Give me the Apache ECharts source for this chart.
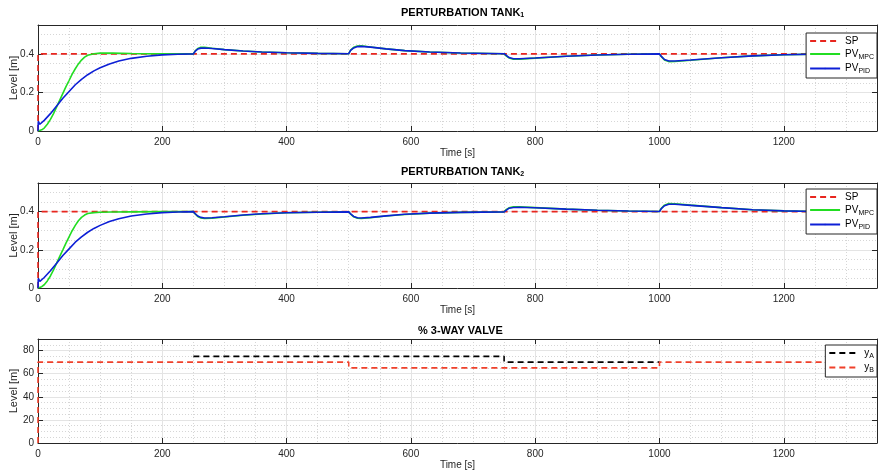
<!DOCTYPE html>
<html>
<head>
<meta charset="utf-8">
<script src="https://cdn.jsdelivr.net/npm/echarts@6/dist/echarts.min.js"></script>
<style>
  html, body { margin: 0; padding: 0; background: #fff; }
  #chart { width: 878px; height: 476px; }
</style>
</head>
<body>
<div id="chart"></div>
<script>
// time bases (s)
const mpcTime = [0, 3, 6, 10, 15, 20, 25, 30, 35, 40, 45, 50, 55, 60, 65, 70, 75, 80, 90, 100,
  120, 150, 200, 250, 253, 257, 262, 268, 280, 300, 330, 360, 400, 450, 500, 503, 508, 514, 520, 535,
  560, 590, 630, 680, 750, 753, 758, 765, 775, 800, 850, 900, 950, 1000, 1003, 1008, 1015, 1025, 1050, 1100,
  1150, 1200, 1250, 1350];
const pidTime = [0, 0.5, 3, 10, 20, 30, 40, 50, 60, 70, 80, 90, 100, 115, 130, 150, 175, 200, 225, 250,
  253, 257, 262, 268, 280, 300, 330, 360, 400, 450, 500, 503, 508, 514, 520, 535, 560, 590, 630, 680,
  750, 753, 758, 765, 775, 800, 850, 900, 950, 1000, 1003, 1008, 1015, 1025, 1050, 1100, 1150, 1200, 1250, 1350];

// tank 1 levels (m)
const tank1Sp = [[0, 0], [0, 0.4], [1350, 0.4]];
const tank1Mpc = [0, 0.002, 0.006, 0.015, 0.035, 0.06, 0.09, 0.125, 0.16, 0.195, 0.23, 0.262, 0.295, 0.323, 0.348, 0.368, 0.383, 0.393, 0.401, 0.404,
  0.404, 0.402, 0.4, 0.4, 0.416, 0.428, 0.434, 0.434, 0.429, 0.422, 0.415, 0.41, 0.406, 0.403, 0.401, 0.42, 0.434, 0.441, 0.442, 0.436,
  0.426, 0.417, 0.41, 0.405, 0.401, 0.39, 0.379, 0.372, 0.373, 0.378, 0.388, 0.394, 0.398, 0.4, 0.386, 0.369, 0.36, 0.361, 0.367, 0.38,
  0.39, 0.396, 0.399, 0.4];
const tank1Pid = [0, 0.05, 0.035, 0.055, 0.09, 0.13, 0.17, 0.205, 0.24, 0.268, 0.292, 0.312, 0.328, 0.348, 0.363, 0.377, 0.388, 0.395, 0.398, 0.4,
  0.414, 0.425, 0.43, 0.431, 0.428, 0.422, 0.415, 0.41, 0.406, 0.403, 0.401, 0.418, 0.431, 0.438, 0.439, 0.435, 0.426, 0.417, 0.41, 0.405,
  0.401, 0.391, 0.381, 0.375, 0.375, 0.379, 0.388, 0.394, 0.398, 0.4, 0.387, 0.371, 0.363, 0.363, 0.368, 0.38, 0.39, 0.396, 0.399, 0.4];

// tank 2 levels (m)
const tank2Sp = [[0, 0], [0, 0.4], [1350, 0.4]];
const tank2Mpc = [0, 0.002, 0.007, 0.017, 0.037, 0.063, 0.095, 0.13, 0.166, 0.2, 0.235, 0.268, 0.3, 0.328, 0.352, 0.37, 0.382, 0.39, 0.395, 0.397,
  0.398, 0.399, 0.4, 0.4, 0.388, 0.375, 0.367, 0.364, 0.366, 0.372, 0.381, 0.388, 0.394, 0.397, 0.399, 0.387, 0.373, 0.365, 0.364, 0.368,
  0.377, 0.385, 0.392, 0.396, 0.399, 0.41, 0.42, 0.425, 0.425, 0.421, 0.413, 0.407, 0.403, 0.401, 0.418, 0.434, 0.442, 0.441, 0.434, 0.421,
  0.41, 0.404, 0.401, 0.4];
const tank2Pid = [0, 0.05, 0.035, 0.055, 0.09, 0.13, 0.17, 0.205, 0.24, 0.268, 0.292, 0.312, 0.328, 0.348, 0.363, 0.377, 0.388, 0.395, 0.398, 0.4,
  0.389, 0.377, 0.37, 0.367, 0.368, 0.373, 0.382, 0.389, 0.394, 0.397, 0.399, 0.388, 0.375, 0.368, 0.367, 0.37, 0.378, 0.386, 0.392, 0.396,
  0.399, 0.409, 0.418, 0.422, 0.423, 0.42, 0.413, 0.407, 0.403, 0.401, 0.416, 0.431, 0.439, 0.439, 0.433, 0.421, 0.41, 0.404, 0.401, 0.4];

// 3-way valve (%)
const valveA = [[250, 75], [750, 75], [750, 70], [1000, 70]];
const valveB = [[0, 0], [0, 70], [500, 70], [500, 65], [1000, 65], [1000, 70], [1350, 70]];

const titles = ['PERTURBATION TANK', 'PERTURBATION TANK', '% 3-WAY VALVE'];
const titleSubs = ['1', '2', ''];

const zip = (t, v) => t.map((x, i) => [x, v[i]]);
const ink = '#262626';
const font = 'Liberation Sans, Arial, sans-serif';

const grids = [
  { left: 38, top: 25, width: 839, height: 106, outerBoundsMode: 'none', containLabel: false },
  { left: 38, top: 183, width: 839, height: 105, outerBoundsMode: 'none', containLabel: false },
  { left: 38, top: 339, width: 839, height: 104, outerBoundsMode: 'none', containLabel: false },
];
const yMax = [0.55, 0.55, 90];
const yStep = [0.2, 0.2, 20];

const xAxis = [];
const yAxis = [];
grids.forEach((g, i) => {
  xAxis.push({
    type: 'value', gridIndex: i, min: 0, max: 1350, interval: 200, position: 'bottom',
    axisLine: { onZero: false, lineStyle: { color: ink } },
    axisTick: { inside: true, length: 5, lineStyle: { color: ink } },
    axisLabel: { color: ink, fontSize: 10, margin: 6, showMaxLabel: false, formatter: (v) => String(v) },
    splitLine: { lineStyle: { color: '#e4e4e4' } },
    minorTick: { show: false, splitNumber: 4 },
    minorSplitLine: { show: true, lineStyle: { color: '#d6d6d6', type: [1, 2] } },
    name: 'Time [s]', nameLocation: 'middle', nameGap: 17, nameMoveOverlap: false,
    nameTextStyle: { color: ink, fontSize: 10 },
  });
  xAxis.push({
    type: 'value', gridIndex: i, min: 0, max: 1350, interval: 200, position: 'top',
    axisLine: { onZero: false, lineStyle: { color: ink } },
    axisTick: { inside: true, length: 5, lineStyle: { color: ink } },
    axisLabel: { show: false }, splitLine: { show: false },
  });
  yAxis.push({
    type: 'value', gridIndex: i, min: 0, max: yMax[i], interval: yStep[i], position: 'left',
    axisLine: { onZero: false, lineStyle: { color: ink } },
    axisTick: { inside: true, length: 5, lineStyle: { color: ink } },
    axisLabel: { color: ink, fontSize: 10, margin: 4, showMaxLabel: false },
    splitLine: { lineStyle: { color: '#e4e4e4' } },
    minorTick: { show: false, splitNumber: 4 },
    minorSplitLine: { show: true, lineStyle: { color: '#d6d6d6', type: [1, 2] } },
    name: 'Level [m]', nameLocation: 'middle', nameGap: 19, nameMoveOverlap: false,
    nameTextStyle: { color: ink, fontSize: 11 },
  });
  yAxis.push({
    type: 'value', gridIndex: i, min: 0, max: yMax[i], interval: yStep[i], position: 'right',
    axisLine: { onZero: false, lineStyle: { color: ink } },
    axisTick: { inside: true, length: 5, lineStyle: { color: ink } },
    axisLabel: { show: false }, splitLine: { show: false },
  });
});

function line(name, grid, data, color, width, dashed) {
  return {
    name: name, type: 'line', xAxisIndex: grid * 2, yAxisIndex: grid * 2,
    data: data, symbol: 'none', animation: false,
    lineStyle: { color: color, width: width, type: dashed ? [6, 4] : 'solid' },
    itemStyle: { color: color },
  };
}

const subNames = { PV_MPC: '{m|PV}{s|MPC}', PV_PID: '{m|PV}{s|PID}', y_A: '{m|y}{s|A}', y_B: '{m|y}{s|B}' };
const legendRich = {
  m: { fontSize: 10, color: '#000' },
  s: { fontSize: 7, color: '#000', verticalAlign: 'bottom', padding: [6, 0, 0, 0] },
};
function legend(names, top) {
  return {
    data: names, orient: 'vertical', right: 1, top: top,
    backgroundColor: '#fff', borderColor: ink, borderWidth: 1,
    padding: [3, 3, 3, 3], itemGap: 3, itemWidth: 30, itemHeight: 2,
    selectedMode: false,
    formatter: (n) => subNames[n] || ('{m|' + n + '}'),
    textStyle: { fontSize: 10, color: '#000', rich: legendRich },
  };
}

const chart = echarts.init(document.getElementById('chart'));
chart.setOption({
  animation: false,
  backgroundColor: '#fff',
  textStyle: { fontFamily: font },
  title: titles.map((t, i) => ({
    text: '{t|' + t + '}' + (titleSubs[i] ? '{s|' + titleSubs[i] + '}' : ''),
    left: i === 2 ? 418 : 401, top: [6, 165, 325][i], padding: 0,
    textStyle: {
      rich: {
        t: { fontSize: 11, fontWeight: 'bold', color: '#000', fontFamily: font },
        s: { fontSize: 7, fontWeight: 'bold', color: '#000', fontFamily: font, verticalAlign: 'bottom', padding: [6, 0, 0, 0] },
      },
    },
  })),
  grid: grids,
  xAxis: xAxis,
  yAxis: yAxis,
  legend: [
    legend(['SP', 'PV_MPC', 'PV_PID'], 33),
    legend(['SP', 'PV_MPC', 'PV_PID'], 189),
    legend(['y_A', 'y_B'], 345),
  ],
  series: [
    line('SP', 0, tank1Sp, '#e8261f', 1.6, true),
    line('PV_MPC', 0, zip(mpcTime, tank1Mpc), '#22dd22', 1.6, false),
    line('PV_PID', 0, zip(pidTime, tank1Pid), '#0d1fd6', 1.6, false),
    line('SP', 1, tank2Sp, '#e8261f', 1.6, true),
    line('PV_MPC', 1, zip(mpcTime, tank2Mpc), '#22dd22', 1.6, false),
    line('PV_PID', 1, zip(pidTime, tank2Pid), '#0d1fd6', 1.6, false),
    line('y_A', 2, valveA, '#000000', 1.6, true),
    line('y_B', 2, valveB, '#f0402a', 1.6, true),
  ],
});
</script>
</body>
</html>
